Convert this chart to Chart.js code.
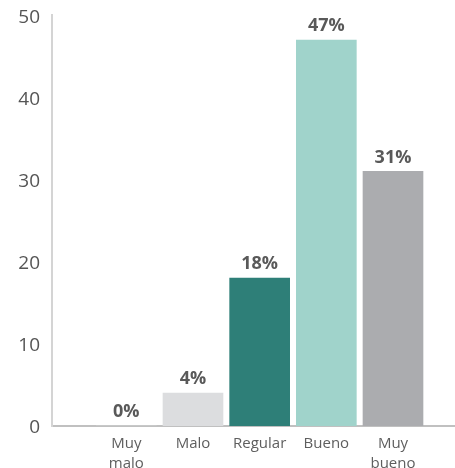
<!DOCTYPE html>
<html>
<head>
<meta charset="utf-8">
<script src="https://cdn.jsdelivr.net/npm/chart.js@4"></script>
<style>
  html, body { margin: 0; padding: 0; background: #fff; }
  #wrap { width: 455px; height: 468px; }
</style>
</head>
<body>
<div id="wrap"><canvas id="chart" width="455" height="468"></canvas></div>
<script>
const categories = ['Muy malo', 'Malo', 'Regular', 'Bueno', 'Muy bueno'];
const values = [0, 4, 18, 47, 31];
const percentLabels = ['0%', '4%', '18%', '47%', '31%'];
const barColors = ['#dcdddf', '#dcdddf', '#2e7f78', '#a0d3cb', '#abacaf'];
const yTicks = [0, 10, 20, 30, 40, 50];

const font = "'Open Sans', sans-serif";

// draws the percent text above each bar
const barLabels = {
  id: 'barLabels',
  afterDatasetsDraw(chart) {
    const ctx = chart.ctx;
    const meta = chart.getDatasetMeta(0);
    ctx.save();
    ctx.font = 'bold 18px ' + font;
    ctx.fillStyle = '#595959';
    ctx.textAlign = 'center';
    ctx.textBaseline = 'bottom';
    meta.data.forEach(function(bar, i) {
      ctx.fillText(percentLabels[i], bar.x, bar.y - 5);
    });
    ctx.restore();
  }
};

new Chart(document.getElementById('chart'), {
  type: 'bar',
  plugins: [barLabels],
  data: {
    datasets: [{
      data: values.map((v, i) => ({ x: i, y: v })),
      backgroundColor: barColors,
      barThickness: 60,
      borderWidth: 0
    }]
  },
  options: {
    responsive: false,
    animation: false,
    layout: { padding: { top: 12, right: 0, left: 0, bottom: 0 } },
    plugins: { legend: { display: false }, tooltip: { enabled: false } },
    scales: {
      x: {
        type: 'linear',
        offset: false,
        min: -1.115,
        max: 4.93,
        grid: { display: false },
        border: { display: true, color: '#c0c0c0', width: 2 },
        afterBuildTicks: s => { s.ticks = categories.map((_, i) => ({ value: i })); },
        afterFit: s => { s.height = 42; },
        ticks: {
          autoSkip: false,
          maxRotation: 0,
          padding: 0,
          color: '#5e5e5e',
          font: { family: font, size: 15, lineHeight: 1.3 },
          callback: v => categories[v] ? categories[v].split(' ') : ''
        }
      },
      y: {
        min: 0,
        max: 50,
        grid: { display: false },
        border: { display: true, color: '#d4d4d4', width: 2 },
        afterBuildTicks: s => { s.ticks = yTicks.map(v => ({ value: v })); },
        afterFit: s => { s.width = 52; },
        ticks: {
          padding: 4,
          labelOffset: 2,
          color: '#555',
          font: { family: font, size: 19 }
        }
      }
    }
  }
});
</script>
</body>
</html>
